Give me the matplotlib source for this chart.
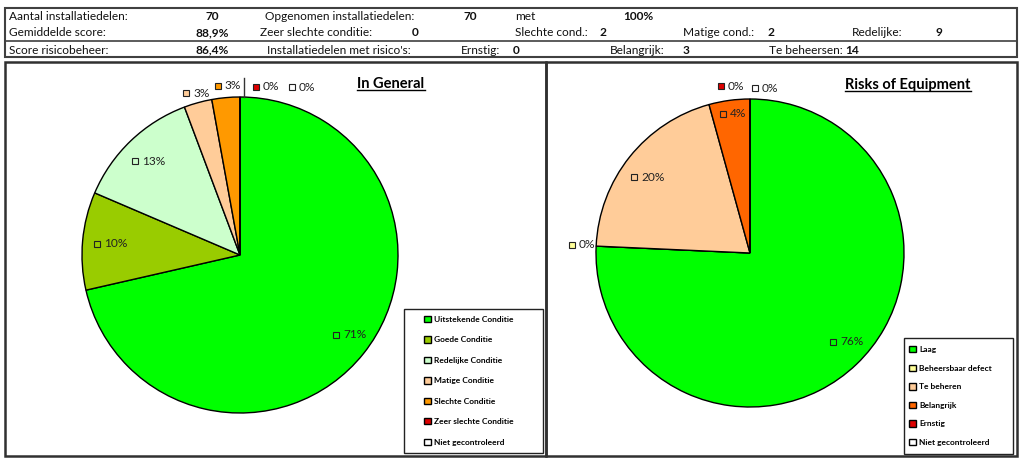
import matplotlib
matplotlib.use('Agg')
import matplotlib.pyplot as plt
from matplotlib.patches import Rectangle
import numpy as np

plt.rcParams['font.family'] = ['Lato', 'DejaVu Sans']

# gegevens
general_labels = ['Uitstekende Conditie', 'Goede Conditie', 'Redelijke Conditie', 'Matige Conditie',
                  'Slechte Conditie', 'Zeer slechte Conditie', 'Niet gecontroleerd']
general_counts = [50, 7, 9, 2, 2, 0, 0]
general_colors = ['#00FF00', '#99CC00', '#CCFFCC', '#FFCC99', '#FF9900', '#DD0000', '#FFFFFF']

risk_labels = ['Laag', 'Beheersbaar defect', 'Te beheren', 'Belangrijk', 'Ernstig', 'Niet gecontroleerd']
risk_counts = [53, 0, 14, 3, 0, 0]
risk_colors = ['#00FF00', '#FFFF99', '#FFCC99', '#FF6600', '#DD0000', '#FFFFFF']

# tabel bovenaan: (tekst, x, rij, vet)
header_cells = [
    ('Aantal installatiedelen:', 9, 0, False), ('70', 206, 0, True),
    ('Opgenomen installatiedelen:', 265, 0, False), ('70', 464, 0, True),
    ('met', 515, 0, False), ('100%', 623, 0, True),
    ('Gemiddelde score:', 9, 1, False), ('88,9%', 196, 1, True),
    ('Zeer slechte conditie:', 260, 1, False), ('0', 412, 1, True),
    ('Slechte cond.:', 515, 1, False), ('2', 599, 1, True),
    ('Matige cond.:', 683, 1, False), ('2', 767, 1, True),
    ('Redelijke:', 852, 1, False), ('9', 935, 1, True),
    ('Score risicobeheer:', 9, 2, False), ('86,4%', 196, 2, True),
    ("Installatiedelen met risico's:", 267, 2, False), ('Ernstig:', 461, 2, False), ('0', 513, 2, True),
    ('Belangrijk:', 610, 2, False), ('3', 683, 2, True),
    ('Te beheersen:', 769, 2, False), ('14', 845, 2, True),
]
row_y = [17, 33, 50]

# label plaatsing per taartpunt (straal, hoekcorrectie)
general_lab_r = [0.79, 0.91, 0.89, 1.08, 1.08, 1.07, 1.11]
general_lab_da = [-1, 0.7, 4.5, 3, 2.3, -5.4, -17.2]
risk_lab_r = [0.79, 1.16, 0.90, 0.92, 1.10, 1.07]
risk_lab_da = [-0.4, 0, 5.4, 3.3, 9.9, -1.7]

W, H = 1024, 463
fig = plt.figure(figsize=(W / 100, H / 100), dpi=100)
fig.patch.set_facecolor('white')

bg = fig.add_axes([0, 0, 1, 1])
bg.set_xlim(0, W)
bg.set_ylim(H, 0)
bg.axis('off')

# tabel
bg.add_patch(Rectangle((5, 8), 1012, 49, fill=False, ec='#404040', lw=1.5))
bg.plot([5, 1017], [41, 41], color='#404040', lw=1.2)
for txt, x, r, bold in header_cells:
    bg.text(x, row_y[r], txt, fontsize=8.6, fontweight='bold' if bold else 'normal',
            va='center', ha='left', color='#111111')

# panelen
bg.add_patch(Rectangle((5, 62), 541, 394, fill=False, ec='#303030', lw=1.8))
bg.add_patch(Rectangle((546, 62), 471, 394, fill=False, ec='#303030', lw=1.8))
# legenda kaders
bg.add_patch(Rectangle((404, 309), 139, 144, fill=False, ec='#222222', lw=1))
bg.add_patch(Rectangle((904, 338), 109, 116, fill=False, ec='#222222', lw=1))


def draw_pie(rect, counts, colors, lab_r, lab_da):
    ax = fig.add_axes(rect)
    wedges, _ = ax.pie(counts, colors=colors, startangle=90, counterclock=False,
                       wedgeprops=dict(edgecolor='black', linewidth=1))
    total = sum(counts)
    for w, c, col, rr, da in zip(wedges, counts, colors, lab_r, lab_da):
        mid = np.deg2rad((w.theta1 + w.theta2) / 2 + da)
        x, y = rr * np.cos(mid), rr * np.sin(mid)
        ax.plot(x, y, marker='s', ms=5, mfc=col, mec='#222222', mew=0.8, clip_on=False)
        ax.annotate('%d%%' % round(c / total * 100), (x, y), xytext=(5, 0),
                    textcoords='offset points', va='center', ha='left',
                    fontsize=8.6, color='#222222', annotation_clip=False)
    ax.set_xlim(-1, 1)
    ax.set_ylim(-1, 1)
    ax.set_aspect('equal')
    ax.axis('off')
    return ax, wedges


ax1, w1 = draw_pie([82 / W, (H - 413) / H, 316 / W, 316 / H],
                   general_counts, general_colors, general_lab_r, general_lab_da)
ax1.plot([0.025, 0.025], [1.0, 1.12], color='#333333', lw=1, clip_on=False)
ax2, w2 = draw_pie([596 / W, (H - 407) / H, 308 / W, 308 / H],
                   risk_counts, risk_colors, risk_lab_r, risk_lab_da)

fig.legend(w1, general_labels, loc='upper left', bbox_to_anchor=(424 / W, 1 - 316 / H),
           frameon=False, prop=dict(weight='bold', size=6), borderpad=0,
           borderaxespad=0, handlelength=0.8, handleheight=0.8, handletextpad=0.4,
           labelspacing=1.6)
fig.legend(w2, risk_labels, loc='upper left', bbox_to_anchor=(909 / W, 1 - 346 / H),
           frameon=False, prop=dict(weight='bold', size=6), borderpad=0,
           borderaxespad=0, handlelength=0.8, handleheight=0.8, handletextpad=0.4,
           labelspacing=1.38)

# titels met onderstreping
titles = [('In General', 391, 84), ('Risks of Equipment', 908, 85)]
fig.canvas.draw()
renderer = fig.canvas.get_renderer()
for txt, x, y in titles:
    t = bg.text(x, y, txt, fontsize=10.5, fontweight='bold', ha='center', va='center')
    bb = t.get_window_extent(renderer)
    (x0, y0), (x1, y1) = bg.transData.inverted().transform([[bb.x0, bb.y0], [bb.x1, bb.y1]])
    bg.plot([x0, x1], [y0 - 1, y0 - 1], color='black', lw=1)

fig.savefig('out.png', dpi=100)
